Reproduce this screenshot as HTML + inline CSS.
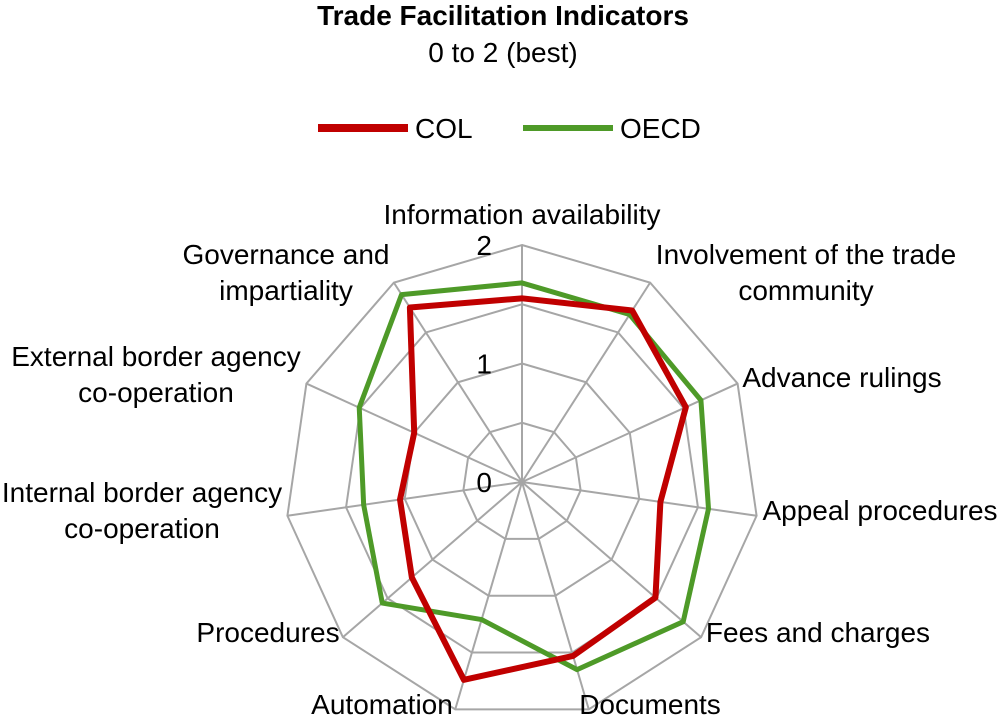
<!DOCTYPE html>
<html><head><meta charset="utf-8"><style>
body{margin:0;background:#fff;}
svg text{font-family:"Liberation Sans Narrow","Liberation Sans",sans-serif;font-size:28px;fill:#000;}
</style></head><body>
<svg id="chart" width="1000" height="718" viewBox="0 0 1000 718" xmlns="http://www.w3.org/2000/svg">
<text x="503" y="25" text-anchor="middle" font-weight="bold">Trade Facilitation Indicators</text>
<text x="503" y="62" text-anchor="middle">0 to 2 (best)</text>
<g>
<line x1="318" y1="128" x2="408" y2="128" stroke="#C00000" stroke-width="8"/>
<text x="415" y="138">COL</text>
<line x1="523" y1="128" x2="613" y2="128" stroke="#4E9A28" stroke-width="6"/>
<text x="620" y="138">OECD</text>
</g>
<g id="grid"></g><g id="series"></g><g id="labels"></g>
</svg>
<script>
const categories=["Information availability","Involvement of the trade community","Advance rulings","Appeal procedures","Fees and charges","Documents","Automation","Procedures","Internal border agency co-operation","External border agency co-operation","Governance and impartiality"];
const colValues=[1.55,1.72,1.52,1.18,1.49,1.53,1.74,1.23,1.04,1.0,1.75];
const oecdValues=[1.68,1.68,1.66,1.59,1.8,1.65,1.21,1.56,1.35,1.51,1.88];
const ringValues=[0.5,1,1.5,2];
const tickLabels=["0","1","2"];
const tickValues=[0,1,2];
const labelLines=[["Information availability"],["Involvement of the trade","community"],["Advance rulings"],["Appeal procedures"],["Fees and charges"],["Documents"],["Automation"],["Procedures"],["Internal border agency","co-operation"],["External border agency","co-operation"],["Governance and","impartiality"]];
const cx=522,cy=482,R=237,maxV=2;
const NS="http://www.w3.org/2000/svg";
function ang(i){return i*2*Math.PI/categories.length;}
function pt(i,v){const r=v/maxV*R,a=ang(i);return [cx+r*Math.sin(a),cy-r*Math.cos(a)];}
function mk(tag,attrs,parent){const e=document.createElementNS(NS,tag);for(const k in attrs)e.setAttribute(k,attrs[k]);parent.appendChild(e);return e;}
const grid=document.getElementById('grid'),series=document.getElementById('series'),labels=document.getElementById('labels');
ringValues.forEach((v,k)=>{
 const p=mk('polygon',{points:categories.map((c,i)=>pt(i,v).join(',')).join(' '),fill:'none',stroke:'#A6A6A6','stroke-width':2},grid);
 
 
});
categories.forEach((c,i)=>{
 const e=pt(i,maxV);
 const l=mk('line',{x1:cx,y1:cy,x2:e[0],y2:e[1],stroke:'#A6A6A6','stroke-width':2},grid);
 
 
});
tickValues.forEach((v,k)=>{
 const t=mk('text',{x:492,y:cy-v/maxV*R+10,'text-anchor':'end'},labels);
 t.textContent=tickLabels[k];
 
 
});
function drawSeries(vals,color,w,name){
 const p=mk('polygon',{points:vals.map((v,i)=>pt(i,v).join(',')).join(' '),fill:'none',stroke:color,'stroke-width':w,'stroke-linejoin':'round'},series);
 
 
}
drawSeries(oecdValues,'#4E9A28',5,'series-oecd');
drawSeries(colValues,'#C00000',6,'series-col');
const labelPos=[[522,224,'middle'],[806,264,'middle'],[842,387,'middle'],[880,520,'middle'],[818,642,'middle'],[650,714,'middle'],[382,714,'middle'],[268,642,'middle'],[142,502,'middle'],[156,366,'middle'],[286,264,'middle']];
categories.forEach((c,i)=>{
 const [x,y,a]=labelPos[i];
 const t=mk('text',{x:x,y:y,'text-anchor':a},labels);
 
 
 labelLines[i].forEach((ln,j)=>{const s=mk('tspan',{x:x,dy:j?36:0},t);s.textContent=ln;});
});
</script>
</body></html>
